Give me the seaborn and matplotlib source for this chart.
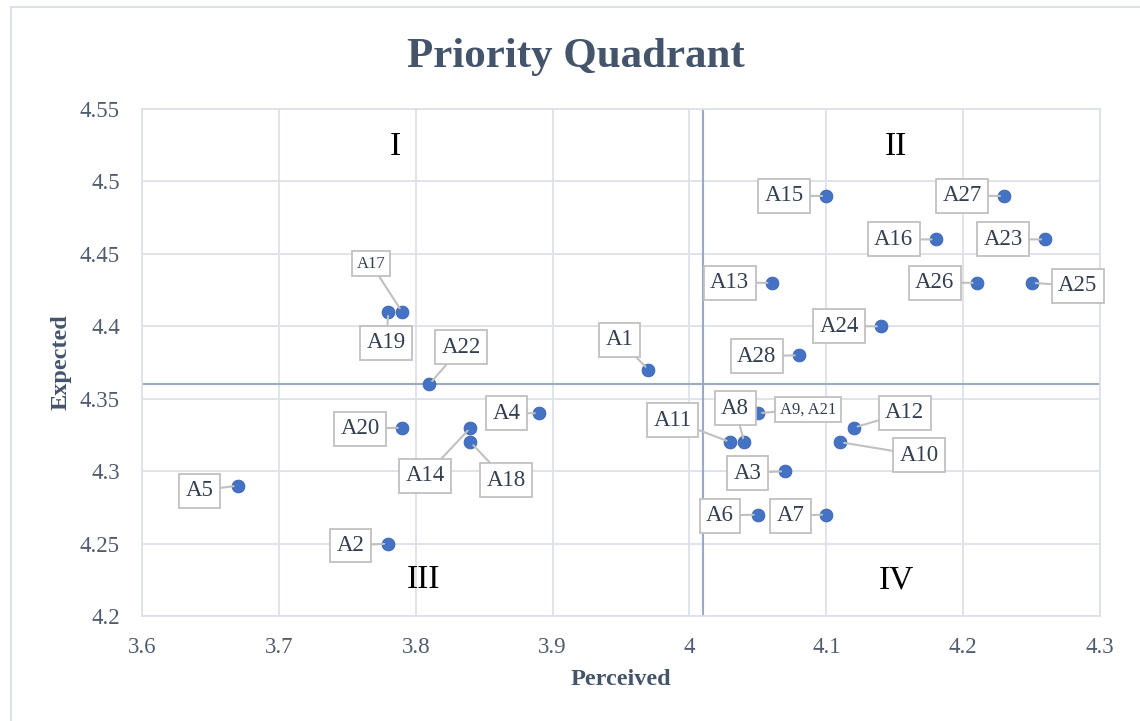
import matplotlib.pyplot as plt
import matplotlib.patches as patches
from matplotlib.ticker import FuncFormatter, MultipleLocator
import seaborn as sns
import pandas as pd

# data
names = ["A1", "A2", "A3", "A4", "A5", "A6", "A7", "A8", "A9, A21", "A10",
         "A11", "A12", "A13", "A14", "A15", "A16", "A17", "A18", "A19", "A20",
         "A22", "A23", "A24", "A25", "A26", "A27", "A28"]
perceived = [3.97, 3.78, 4.07, 3.89, 3.67, 4.05, 4.10, 4.04, 4.05, 4.11,
             4.03, 4.12, 4.06, 3.84, 4.10, 4.18, 3.79, 3.84, 3.78, 3.79,
             3.81, 4.26, 4.14, 4.25, 4.21, 4.23, 4.08]
expected = [4.37, 4.25, 4.30, 4.34, 4.29, 4.27, 4.27, 4.32, 4.34, 4.32,
            4.32, 4.33, 4.43, 4.33, 4.49, 4.46, 4.41, 4.32, 4.41, 4.33,
            4.36, 4.46, 4.40, 4.43, 4.43, 4.49, 4.38]
mean_perceived = 4.01
mean_expected = 4.36
quadrants = ["I", "II", "III", "IV"]

df = pd.DataFrame({"Name": names, "Perceived": perceived, "Expected": expected})

# callout placement (pixel offsets of box centre from point)
label_offsets = {
    "A1": (-29, 30), "A2": (-38, -2), "A3": (-38, -2), "A4": (-32, 0),
    "A5": (-38, -5), "A6": (-38, -1), "A7": (-36, -1), "A8": (-9, 34),
    "A9, A21": (50, 4), "A10": (79, -13), "A11": (-58, 22), "A12": (51, 15),
    "A13": (-42, 0), "A14": (-45, -48), "A15": (-42, 0), "A16": (-42, 0),
    "A17": (-31, 48), "A18": (36, -38), "A19": (-2, -31), "A20": (-42, -1),
    "A22": (32, 37), "A23": (-42, 0), "A24": (-42, 0), "A25": (46, -3),
    "A26": (-42, 0), "A27": (-42, 0), "A28": (-42, -1),
}
small_labels = ["A17", "A9, A21"]
quad_pos = {"I": (3.785, 4.524), "II": (4.151, 4.524),
            "III": (3.806, 4.225), "IV": (4.151, 4.225)}

sns.set_style("white")
plt.rcParams["font.family"] = ["Liberation Serif", "DejaVu Serif"]

text_col = "#44546A"
tick_col = "#4F5B6E"
grid_col = "#DDE1EA"

fig = plt.figure(figsize=(11.4, 7.21), dpi=100)
ax = fig.add_axes([142 / 1140, 1 - 616 / 721, 958 / 1140, 507 / 721])

ax.set_xlim(3.6, 4.3)
ax.set_ylim(4.2, 4.55)
ax.xaxis.set_major_locator(MultipleLocator(0.1))
ax.yaxis.set_major_locator(MultipleLocator(0.05))
fmt = FuncFormatter(lambda v, p: f"{round(v, 2):g}")
ax.xaxis.set_major_formatter(fmt)
ax.yaxis.set_major_formatter(fmt)
ax.grid(True, color=grid_col, lw=1.3)
ax.set_axisbelow(True)
for s in ax.spines.values():
    s.set_color(grid_col)
    s.set_linewidth(1.3)
ax.tick_params(axis="both", length=0, labelsize=16.5, colors=tick_col)
ax.tick_params(axis="x", pad=15)
ax.tick_params(axis="y", pad=16)

# quadrant dividers
ax.axvline(mean_perceived, color="#9AAAC6", lw=1.5, zorder=1)
ax.axhline(mean_expected, color="#9AAAC6", lw=1.5, zorder=1)

sns.scatterplot(data=df, x="Perceived", y="Expected", ax=ax, s=85,
                color="#4472C4", edgecolor="#3A64B0", linewidth=0.6, zorder=3)

for n, x, y in zip(names, perceived, expected):
    dx, dy = label_offsets[n]
    fs = 12 if n in small_labels else 16.5
    ax.annotate(n, xy=(x, y), xytext=(dx, dy), textcoords="offset pixels",
                ha="center", va="center", fontsize=fs, color="#333F50",
                bbox=dict(boxstyle="square,pad=0.28", fc="white", ec="#C0C0C0", lw=1.3),
                arrowprops=dict(arrowstyle="-", color="#C0C0C0", lw=1.5,
                                shrinkA=0, shrinkB=3),
                zorder=4)

for q in quadrants:
    qx, qy = quad_pos[q]
    ax.text(qx, qy, q, ha="center", va="center", fontsize=24, color="black")

ax.set_xlabel("Perceived", fontsize=17.5, fontweight="bold", color=text_col, labelpad=8)
ax.set_ylabel("Expected", fontsize=17.5, fontweight="bold", color=text_col, labelpad=6)

fig.text(0.505, 0.921, "Priority Quadrant", ha="center", va="center",
         fontsize=31, fontweight="bold", color=text_col)

# outer chart border
fig.patches.append(patches.Rectangle((11 / 1140, -0.1), 1.2, 0.1 + 1 - 7 / 721,
                                     transform=fig.transFigure, fill=False,
                                     ec="#DDE1EA", lw=1.5))

plt.savefig("out.png", dpi=100)
plt.close()
